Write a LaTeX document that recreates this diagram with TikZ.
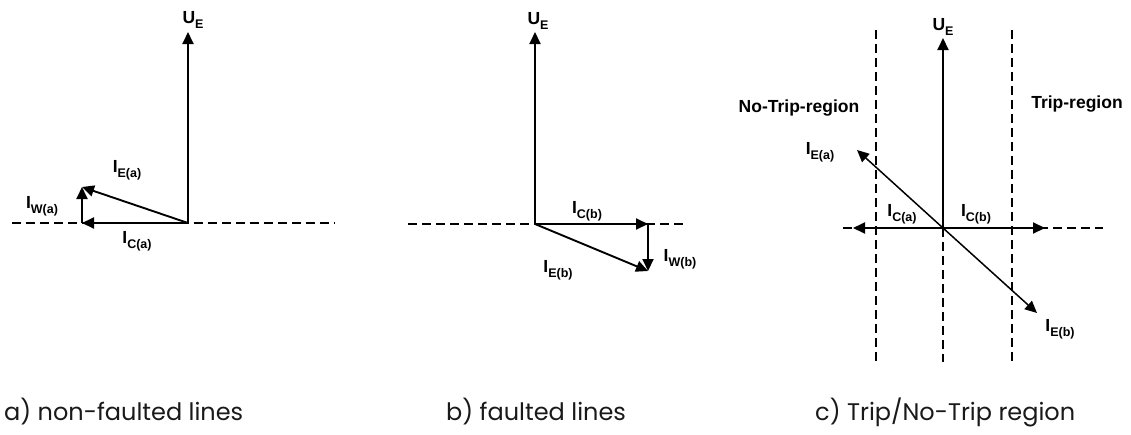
\documentclass[tikz,border=0pt]{standalone}
\usepackage{fontspec}
\setmainfont{Liberation Sans}
\newfontfamily\capfont{Poppins}
\usetikzlibrary{arrows.meta}
\newcommand{\vlab}[2]{#1\raisebox{-0.5ex}{\fontsize{12.5}{12.5}\selectfont #2}}
\tikzset{
  vec/.style={line width=1.9pt, -{Triangle[length=12pt,width=11pt]}},
  thinvec/.style={line width=1.5pt, -{Triangle[length=12pt,width=11pt]}},
  axisline/.style={line width=1.3pt, dash pattern=on 9pt off 5pt},
  lab/.style={font=\fontsize{17.5}{17.5}\selectfont\bfseries, inner sep=0pt},
  captxt/.style={font=\capfont\fontsize{24}{24}\selectfont, anchor=base west, inner sep=0pt, text=black!90}
}
\begin{document}
\begin{tikzpicture}[x=1pt,y=-1pt]
\useasboundingbox (0,0) rectangle (1131,434);
% ---------- panel a ----------
\coordinate (oa) at (188,223);
\coordinate (ua) at (188,32);
\coordinate (ica) at (82,223);
\coordinate (iwa) at (82,187);
\coordinate (la) at (12,223);
\coordinate (ra) at (335,223);
\draw[axisline] (la) -- (ra);
\draw[vec] (oa) -- (ua);
\draw[vec] (oa) -- (ica);
\draw[vec] (ica) -- (iwa);
\draw[vec] (oa) -- (iwa);
\node[lab] (tua) at (193,20) {\vlab{U}{E}};
\node[lab] (tiea) at (127,170) {\vlab{I}{E(a)}};
\node[lab] (tiwa) at (42,206) {\vlab{I}{W(a)}};
\node[lab] (tica) at (137,241) {\vlab{I}{C(a)}};
% ---------- panel b ----------
\coordinate (ob) at (535,224);
\coordinate (ub) at (535,32);
\coordinate (icb) at (648,224);
\coordinate (iwb) at (648,271);
\coordinate (lb) at (408,224);
\coordinate (rb) at (686,224);
\draw[axisline] (lb) -- (rb);
\draw[vec] (ob) -- (ub);
\draw[vec] (ob) -- (icb);
\draw[vec] (icb) -- (iwb);
\draw[vec] (ob) -- (iwb);
\node[lab] (tub) at (538,21) {\vlab{U}{E}};
\node[lab] (ticb) at (587,211) {\vlab{I}{C(b)}};
\node[lab] (tiwb) at (680,259) {\vlab{I}{W(b)}};
\node[lab] (tieb) at (558,270) {\vlab{I}{E(b)}};
% ---------- panel c ----------
\coordinate (oc) at (943,228);
\coordinate (uc) at (943,38);
\coordinate (icac) at (853,228);
\coordinate (icbc) at (1045,228);
\coordinate (ieac) at (857,150);
\coordinate (iebc) at (1037,313);
\coordinate (lc) at (843,228);
\coordinate (rc) at (1103,228);
\coordinate (v1t) at (876,30);
\coordinate (v1b) at (876,362);
\coordinate (v2t) at (1012,30);
\coordinate (v2b) at (1012,362);
\coordinate (vcb) at (943,362);
\draw[axisline] (v1t) -- (v1b);
\draw[axisline] (v2t) -- (v2b);
\draw[axisline] (oc) -- (vcb);
\draw[axisline] (lc) -- (rc);
\draw[vec] (oc) -- (uc);
\draw[vec] (oc) -- (icac);
\draw[vec] (oc) -- (icbc);
\draw[thinvec] (oc) -- (ieac);
\draw[thinvec] (oc) -- (iebc);
\node[lab] (tuc) at (943,27) {\vlab{U}{E}};
\node[lab] (tnotrip) at (799,108) {No-Trip-region};
\node[lab] (ttrip) at (1077,104) {Trip-region};
\node[lab] (tieac) at (820,152) {\vlab{I}{E(a)}};
\node[lab] (ticac) at (902,214) {\vlab{I}{C(a)}};
\node[lab] (ticbc) at (976,214) {\vlab{I}{C(b)}};
\node[lab] (tiebc) at (1060,329) {\vlab{I}{E(b)}};
% ---------- captions ----------
\node[captxt] (capa) at (4,420) {a) non-faulted lines};
\node[captxt] (capb) at (446,420) {b) faulted lines};
\node[captxt] (capc) at (815,420) {c) Trip/No-Trip region};
\end{tikzpicture}
\end{document}
